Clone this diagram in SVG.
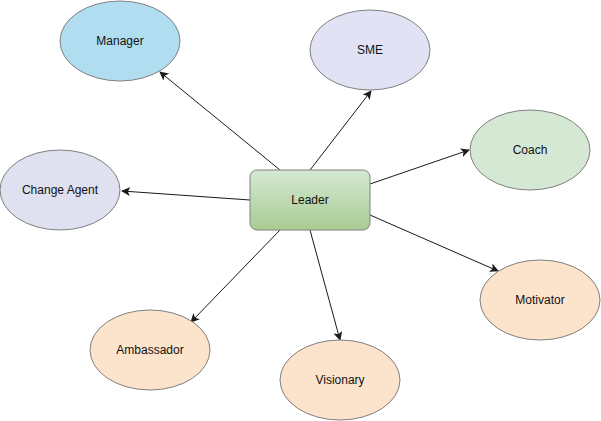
<svg xmlns="http://www.w3.org/2000/svg" width="601" height="421" viewBox="0 0 601 421">
  <style>
    .node { stroke: #808080; stroke-width: 1; }
    .lbl { font-family: "Liberation Sans", Arial, sans-serif; font-size: 12px; fill: #111111; text-anchor: middle; dominant-baseline: central; }
    .edge { stroke: #1a1a1a; stroke-width: 1; fill: none; marker-end: url(#arr); }
  </style>
  <defs>
    <marker id="arr" viewBox="0 0 10 10" refX="9" refY="5" markerWidth="9" markerHeight="9" markerUnits="userSpaceOnUse" orient="auto">
      <path d="M0,0 L10,5 L0,10 L2.5,5 Z" fill="#1a1a1a"/>
    </marker>
    <linearGradient id="leaderGrad" x1="0" y1="0" x2="0" y2="1">
      <stop offset="0" stop-color="#d5e8d4"/>
      <stop offset="1" stop-color="#a8cc92"/>
    </linearGradient>
  </defs>
  <rect width="601" height="421" fill="#ffffff"/>
  <g id="connectors">
    <line class="edge" x1="280" y1="170" x2="160" y2="72"/>
    <line class="edge" x1="250" y1="200" x2="122" y2="191"/>
    <line class="edge" x1="310" y1="170" x2="371" y2="91"/>
    <line class="edge" x1="370" y1="184" x2="469" y2="150"/>
    <line class="edge" x1="280" y1="230" x2="191" y2="322"/>
    <line class="edge" x1="310" y1="230" x2="340" y2="340"/>
    <line class="edge" x1="370" y1="215" x2="498" y2="271"/>
  </g>
  <g id="manager">
    <ellipse class="node" cx="120" cy="41" rx="60" ry="40" fill="#b1ddf0"/>
    <text class="lbl" x="120" y="41">Manager</text>
  </g>
  <g id="sme">
    <ellipse class="node" cx="370" cy="50" rx="60" ry="40" fill="#e1e2f3"/>
    <text class="lbl" x="370" y="50">SME</text>
  </g>
  <g id="change-agent">
    <ellipse class="node" cx="60" cy="190" rx="60" ry="40" fill="#dfe0f0"/>
    <text class="lbl" x="60" y="190">Change Agent</text>
  </g>
  <g id="coach">
    <ellipse class="node" cx="530" cy="150" rx="60" ry="40" fill="#d5e8d4" stroke="#a0c890"/>
    <text class="lbl" x="530" y="150">Coach</text>
  </g>
  <g id="leader">
    <rect class="node" x="250" y="170" width="120" height="60" rx="7" ry="7" fill="url(#leaderGrad)"/>
    <text class="lbl" x="310" y="200">Leader</text>
  </g>
  <g id="ambassador">
    <ellipse class="node" cx="150" cy="350" rx="60" ry="40" fill="#fce4cc"/>
    <text class="lbl" x="150" y="350">Ambassador</text>
  </g>
  <g id="motivator">
    <ellipse class="node" cx="540" cy="300" rx="60" ry="40" fill="#fce4cc" stroke="#a8d098"/>
    <text class="lbl" x="540" y="300">Motivator</text>
  </g>
  <g id="visionary">
    <ellipse class="node" cx="340" cy="380" rx="60" ry="40" fill="#fce4cc" stroke="#a8d098"/>
    <text class="lbl" x="340" y="380">Visionary</text>
  </g>
</svg>
